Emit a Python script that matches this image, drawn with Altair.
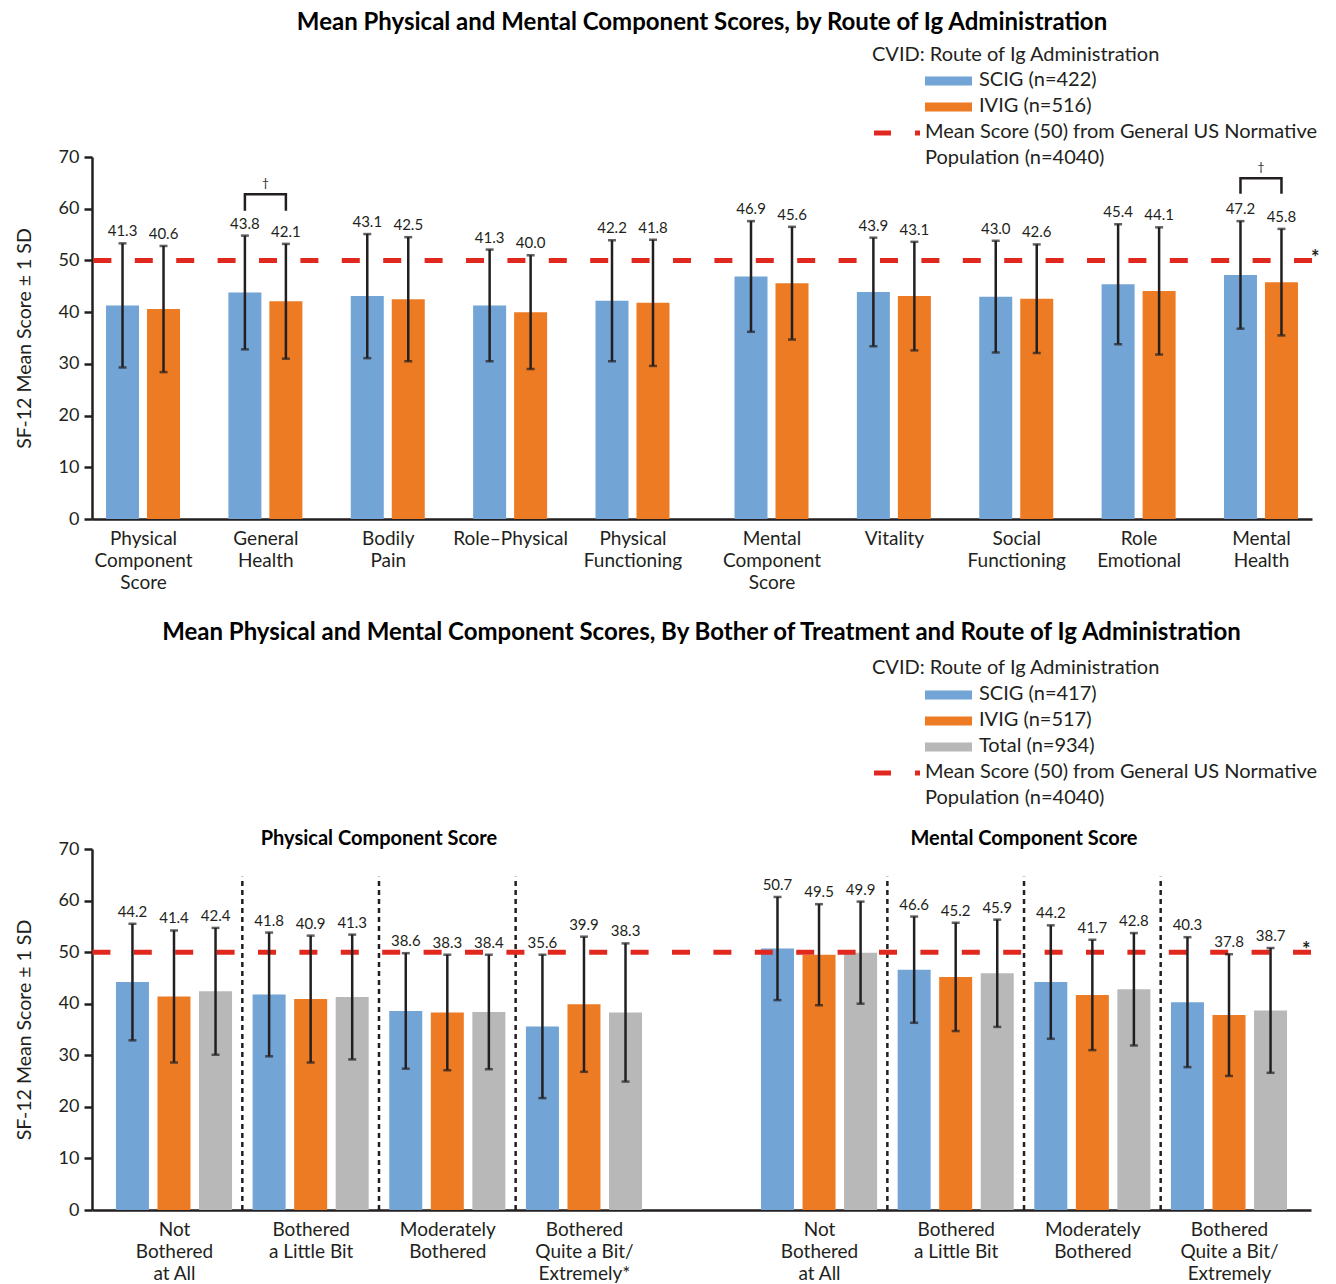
import json

import altair as alt
import pandas as pd

FONT = "Lato"
INK = "#231f20"
RED = "#e1281f"
ROUTES = ["SCIG", "IVIG", "Total"]
ROUTE_RANGE = ["#72a4d6", "#ec7b24", "#b8b8b8"]

# ---------------- SF-12 scores by route of Ig administration ----------------
domain_lines = [["Physical", "Component", "Score"], ["General", "Health"], ["Bodily", "Pain"],
                ["Role–Physical"], ["Physical", "Functioning"], ["Mental", "Component", "Score"],
                ["Vitality"], ["Social", "Functioning"], ["Role", "Emotional"], ["Mental", "Health"]]
scig_mean = [41.3, 43.8, 43.1, 41.3, 42.2, 46.9, 43.9, 43.0, 45.4, 47.2]
scig_sd = [12.0, 11.0, 12.0, 10.8, 11.7, 10.7, 10.5, 10.8, 11.6, 10.4]
ivig_mean = [40.6, 42.1, 42.5, 40.0, 41.8, 45.6, 43.1, 42.6, 44.1, 45.8]
ivig_sd = [12.2, 11.1, 12.0, 11.0, 12.2, 10.9, 10.5, 10.5, 12.3, 10.3]

# significance brackets (†) between SCIG and IVIG
bracket_domain = [1, 9]          # index into domain_lines
bracket_top = [62.8, 65.9]
bracket_leg = [59.6, 62.9]
dagger_y = [65.0, 68.1]

# ---------------- SF-12 scores by bother of treatment ----------------
pcs_lines = [["Not", "Bothered", "at All"], ["Bothered", "a Little Bit"],
             ["Moderately", "Bothered"], ["Bothered", "Quite a Bit/", "Extremely*"]]
mcs_lines = [["Not", "Bothered", "at All"], ["Bothered", "a Little Bit"],
             ["Moderately", "Bothered"], ["Bothered", "Quite a Bit/", "Extremely"]]
pcs_scig_mean = [44.2, 41.8, 38.6, 35.6]
pcs_scig_sd = [11.3, 12.0, 11.2, 13.9]
pcs_ivig_mean = [41.4, 40.9, 38.3, 39.9]
pcs_ivig_sd = [12.8, 12.3, 11.2, 13.1]
pcs_total_mean = [42.4, 41.3, 38.4, 38.3]
pcs_total_sd = [12.3, 12.1, 11.1, 13.4]
mcs_scig_mean = [50.7, 46.6, 44.2, 40.3]
mcs_scig_sd = [10.0, 10.3, 11.0, 12.6]
mcs_ivig_mean = [49.5, 45.2, 41.7, 37.8]
mcs_ivig_sd = [9.8, 10.5, 10.7, 11.8]
mcs_total_mean = [49.9, 45.9, 42.8, 38.7]
mcs_total_sd = [9.9, 10.4, 10.9, 12.1]

NORM = 50

# ---------------- layout on a continuous x axis ----------------
TOP_EDGE, TOP_GAP, TOP_STEP = 0.417, 0.136, 0.335
top_pos = [round(TOP_EDGE + i + (TOP_GAP if i >= 5 else 0), 3) for i in range(10)]
TOP_MAX = round(2 * TOP_EDGE + 9 + TOP_GAP, 3)

BOT_EDGE, BOT_GAP, BOT_STEP = 0.6, 0.72, 0.304
pcs_pos = [round(BOT_EDGE + i, 3) for i in range(4)]
mcs_pos = [round(BOT_EDGE + BOT_GAP + i, 3) for i in range(4, 8)]
BOT_MAX = 8.92


def bar_rows(positions, series, step):
    rows = []
    n = len(series)
    for k, (route, means, sds) in enumerate(series):
        off = (k - (n - 1) / 2) * step
        for p, m, s in zip(positions, means, sds):
            rows.append(dict(route=route, x=round(p + off, 4), mean=m,
                             lo=round(m - s, 2), hi=round(m + s, 2), label=f"{m:.1f}"))
    return pd.DataFrame(rows)


def x_axis(values, lines):
    expr = (f"{json.dumps(lines, ensure_ascii=False)}"
            f"[indexof({json.dumps(values)}, datum.value)]")
    return alt.Axis(values=values, labelExpr=expr, title=None, ticks=False, grid=False,
                    domainColor=INK, domainWidth=2.5, labelFontSize=19, labelLineHeight=22,
                    labelPadding=10, labelColor=INK, labelOverlap=False, labelBound=False,
                    labelFlush=False, labelBaseline="top")


Y_AXIS = alt.Axis(values=list(range(0, 71, 10)), title="SF-12 Mean Score ± 1 SD", grid=False,
                  domainColor=INK, domainWidth=2.5, tickColor=INK, tickWidth=2.5, tickSize=8,
                  labelFontSize=18, labelPadding=5, labelColor=INK, titleFontSize=19.5,
                  titleFontWeight="normal", titleColor=INK, titlePadding=24)
Y_SCALE = alt.Scale(domain=[0, 70], nice=False, zero=True, padding=0)
COLOR = alt.Color("route:N", legend=None, scale=alt.Scale(domain=ROUTES, range=ROUTE_RANGE))


def bars_with_errors(df, x_scale, axis_values, axis_lines):
    base = alt.Chart(df)
    bars = base.mark_bar(width=33).encode(
        x=alt.X("x:Q", scale=x_scale, axis=x_axis(axis_values, axis_lines)),
        y=alt.Y("mean:Q", scale=Y_SCALE, axis=Y_AXIS),
        color=COLOR,
    )
    whisker = base.mark_rule(color=INK, strokeWidth=2.5).encode(x="x:Q", y="lo:Q", y2="hi:Q")
    cap_hi = base.mark_tick(orient="horizontal", size=8, thickness=2.5, color=INK).encode(
        x="x:Q", y="hi:Q")
    cap_lo = base.mark_tick(orient="horizontal", size=8, thickness=2.5, color=INK).encode(
        x="x:Q", y="lo:Q")
    labels = base.mark_text(dy=-7, baseline="alphabetic", fontSize=15, color=INK).encode(
        x="x:Q", y="hi:Q", text="label:N")
    return bars, whisker, cap_hi, cap_lo, labels


def norm_line(x_max, star_dx):
    df = pd.DataFrame({"norm": [NORM]})
    rule = alt.Chart(df).mark_rule(color=RED, strokeWidth=5, strokeDash=[18, 23.4]).encode(
        y="norm:Q")
    star = alt.Chart(df).mark_text(text="*", fontSize=20, fontWeight="bold", color=INK,
                                   align="left", baseline="middle", dx=star_dx, dy=-1).encode(
        x=alt.datum(x_max), y="norm:Q")
    return rule, star


def legend_layers(ox, routes, title_y, row0, row_gap):
    """Hand-drawn key, placed in pixel units relative to the plot origin."""
    one = pd.DataFrame({"k": [0]})
    layers = [alt.Chart(one).mark_text(text="CVID: Route of Ig Administration", fontSize=20,
                                       color=INK, align="left", baseline="middle").encode(
        x=alt.value(ox), y=alt.value(title_y))]
    r = 0
    for name, color in zip(ROUTES, ROUTE_RANGE):
        if name not in routes:
            continue
        cy = row0 + r * row_gap
        layers.append(alt.Chart(one).mark_rect(color=color).encode(
            x=alt.value(ox + 53), x2=alt.value(ox + 100),
            y=alt.value(cy - 4.5), y2=alt.value(cy + 4.5)))
        layers.append(alt.Chart(one).mark_text(text=routes[name], fontSize=20, color=INK,
                                               align="left", baseline="middle").encode(
            x=alt.value(ox + 107), y=alt.value(cy - 1)))
        r += 1
    cy = row0 + r * row_gap
    layers.append(alt.Chart(one).mark_rect(color=RED).encode(
        x=alt.value(ox + 2), x2=alt.value(ox + 19), y=alt.value(cy - 2.5), y2=alt.value(cy + 2.5)))
    layers.append(alt.Chart(one).mark_rect(color=RED).encode(
        x=alt.value(ox + 43), x2=alt.value(ox + 48), y=alt.value(cy - 2.5), y2=alt.value(cy + 2.5)))
    for j, txt in enumerate(["Mean Score (50) from General US Normative", "Population (n=4040)"]):
        layers.append(alt.Chart(one).mark_text(text=txt, fontSize=20, color=INK,
                                               align="left", baseline="middle").encode(
            x=alt.value(ox + 53), y=alt.value(cy - 1 + j * row_gap)))
    return layers


# ---------------- top chart ----------------
top_df = bar_rows(top_pos, [("SCIG", scig_mean, scig_sd), ("IVIG", ivig_mean, ivig_sd)], TOP_STEP)
top_x = alt.Scale(domain=[0, TOP_MAX], nice=False, zero=False, padding=0)
top_layers = list(bars_with_errors(top_df, top_x, top_pos, domain_lines))

br_rows = []
for b, (d, t, leg) in enumerate(zip(bracket_domain, bracket_top, bracket_leg)):
    x0 = top_pos[d] - TOP_STEP / 2
    x1 = top_pos[d] + TOP_STEP / 2
    for o, (xx, yy) in enumerate([(x0, leg), (x0, t), (x1, t), (x1, leg)]):
        br_rows.append(dict(b=b, o=o, x=round(xx, 4), y=yy))
brackets = alt.Chart(pd.DataFrame(br_rows)).mark_line(color=INK, strokeWidth=2.5).encode(
    x="x:Q", y="y:Q", detail="b:N", order="o:Q")
daggers = alt.Chart(pd.DataFrame({"x": [top_pos[d] for d in bracket_domain], "y": dagger_y})).mark_text(
    text="†", fontSize=12, color=INK, baseline="middle").encode(x="x:Q", y="y:Q")

rule_t, star_t = norm_line(TOP_MAX, -1)
top = alt.layer(
    top_layers[0], rule_t, *top_layers[1:], star_t, brackets, daggers,
    *legend_layers(780, {"SCIG": "SCIG (n=422)", "IVIG": "IVIG (n=516)"}, -102, -76, 26),
).properties(
    width=1220, height=362,
    title=alt.TitleParams("Mean Physical and Mental Component Scores, by Route of Ig Administration",
                          fontSize=24, fontWeight="bold", color="#000000", anchor="middle",
                          frame="group", offset=10),
)

# ---------------- bottom chart ----------------
bot_df = pd.concat([
    bar_rows(pcs_pos, [("SCIG", pcs_scig_mean, pcs_scig_sd), ("IVIG", pcs_ivig_mean, pcs_ivig_sd),
                       ("Total", pcs_total_mean, pcs_total_sd)], BOT_STEP),
    bar_rows(mcs_pos, [("SCIG", mcs_scig_mean, mcs_scig_sd), ("IVIG", mcs_ivig_mean, mcs_ivig_sd),
                       ("Total", mcs_total_mean, mcs_total_sd)], BOT_STEP),
], ignore_index=True)
bot_x = alt.Scale(domain=[0, BOT_MAX], nice=False, zero=False, padding=0)
bot_layers = list(bars_with_errors(bot_df, bot_x, pcs_pos + mcs_pos, pcs_lines + mcs_lines))

seps = [round((a + b) / 2, 3) for grp in (pcs_pos, mcs_pos) for a, b in zip(grp[:-1], grp[1:])]
separators = alt.Chart(pd.DataFrame({"x": seps, "y0": [0] * len(seps), "y1": [64.6] * len(seps)})).mark_rule(
    color=INK, strokeWidth=2.5, strokeDash=[5, 4]).encode(x="x:Q", y="y0:Q", y2="y1:Q")

panel_titles = alt.Chart(pd.DataFrame({
    "x": [sum(pcs_pos) / 4, sum(mcs_pos) / 4],
    "t": ["Physical Component Score", "Mental Component Score"],
})).mark_text(fontSize=20, fontWeight="bold", color="#000000", baseline="middle").encode(
    x="x:Q", y=alt.value(-10), text="t:N")

rule_b, star_b = norm_line(BOT_MAX, -9)
bottom = alt.layer(
    bot_layers[0], separators, rule_b, *bot_layers[1:], star_b, panel_titles,
    *legend_layers(780, {"SCIG": "SCIG (n=417)", "IVIG": "IVIG (n=517)", "Total": "Total (n=934)"},
                   -181, -154, 26),
).properties(
    width=1219, height=361,
    title=alt.TitleParams("Mean Physical and Mental Component Scores, By Bother of Treatment and Route of Ig Administration",
                          fontSize=24, fontWeight="bold", color="#000000", anchor="middle",
                          frame="group", offset=13),
)

chart = alt.vconcat(top, bottom, spacing=29).properties(
    padding={"left": 14, "top": 11, "right": 0, "bottom": 0},
).configure(font=FONT).configure_view(stroke=None)

chart.save("out.html", embed_options={"renderer": "svg", "actions": False})
